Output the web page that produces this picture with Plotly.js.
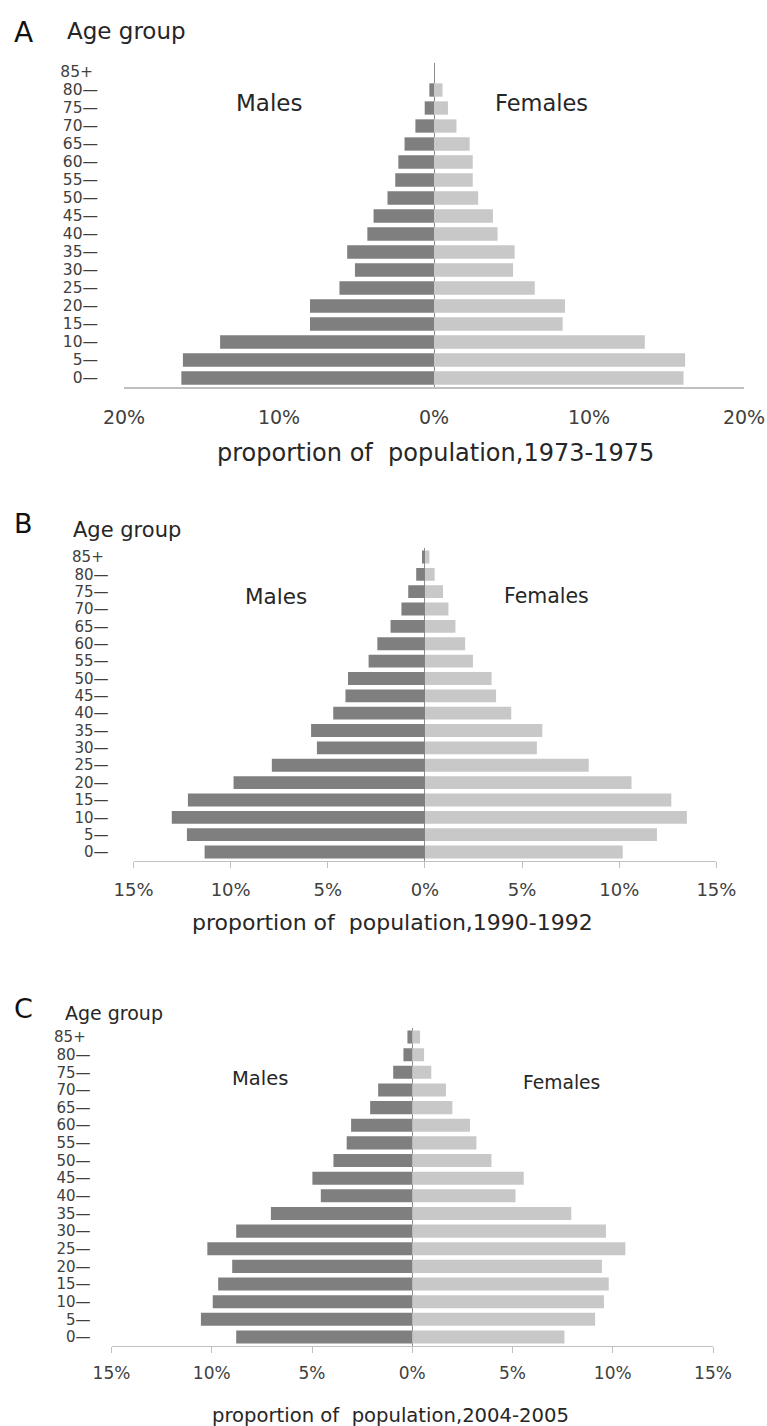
<!DOCTYPE html>
<html>
<head>
<meta charset="utf-8">
<script src="https://cdn.plot.ly/plotly-3.0.1.min.js"></script>
<style>html,body{margin:0;padding:0;background:#fff;}#chart{width:767px;height:1426px;}</style>
</head>
<body>
<div id="chart"></div>
<script>
// ---- data ----
const ageGroups = ['0','5','10','15','20','25','30','35','40','45','50','55','60','65','70','75','80','85+'];
const ageTickText = ['0—','5—','10—','15—','20—','25—','30—','35—','40—','45—','50—','55—','60—','65—','70—','75—','80—','85+\u00a0'];

// Panel A, 1973-1975 (percent of population)
const malesA   = [16.3, 16.2, 13.8, 8.0, 8.0, 6.1, 5.1, 5.6, 4.3, 3.9, 3.0, 2.5, 2.3, 1.9, 1.2, 0.6, 0.3, 0];
const femalesA = [16.1, 16.2, 13.6, 8.3, 8.45, 6.5, 5.1, 5.2, 4.1, 3.8, 2.85, 2.5, 2.5, 2.3, 1.45, 0.9, 0.55, 0];
// Panel B, 1990-1992
const malesB   = [11.34, 12.25, 13.03, 12.2, 9.85, 7.88, 5.56, 5.86, 4.72, 4.09, 3.96, 2.9, 2.45, 1.77, 1.21, 0.86, 0.45, 0.15];
const femalesB = [10.18, 11.94, 13.48, 12.68, 10.63, 8.43, 5.76, 6.04, 4.44, 3.66, 3.43, 2.47, 2.07, 1.57, 1.21, 0.93, 0.5, 0.23];
// Panel C, 2004-2005
const malesC   = [8.78, 10.54, 9.95, 9.68, 8.98, 10.22, 8.78, 7.05, 4.56, 4.98, 3.93, 3.27, 3.05, 2.1, 1.7, 0.95, 0.44, 0.24];
const femalesC = [7.59, 9.12, 9.56, 9.8, 9.46, 10.63, 9.66, 7.93, 5.15, 5.56, 3.95, 3.2, 2.88, 2.0, 1.68, 0.95, 0.59, 0.39];

const tickValsA = [-20, -10, 0, 10, 20];
const tickTextA = ['20%', '10%', '0%', '10%', '20%'];
const tickValsBC = [-15, -10, -5, 0, 5, 10, 15];
const tickTextBC = ['15%', '10%', '5%', '0%', '5%', '10%', '15%'];

const panelLetters = ['A', 'B', 'C'];
const xTitles = ['proportion of\u00a0 population,1973-1975', 'proportion of\u00a0 population,1990-1992', 'proportion of\u00a0 population,2004-2005'];
const sexLabels = ['Males', 'Females'];
const yTitle = 'Age group';

// ---- styling ----
const W = 767, H = 1426;
const FONT = 'DejaVu Sans, sans-serif';
const MALE_COLOR = '#7f7f7f', FEMALE_COLOR = '#c8c8c8';
const px = v => v / W;
const py = v => 1 - v / H;

const panels = [
  {males: malesA, females: femalesA, xd: [124, 744], yd: [63, 387], range: [-20, 20], tv: tickValsA, tt: tickTextA,
   yfont: 15.5, xfont: 19, ystand: 25, xstand: 13, ticks: '',
   letter: {x: 12, y: 32, s: 28}, ag: {x: 65, y: 31, s: 23},
   males_l: {x: 269, y: 103, s: 23}, fem_l: {x: 541, y: 103, s: 22.5}, title: {x: 435, y: 453, s: 24}},
  {males: malesB, females: femalesB, xd: [133.5, 716.4], yd: [548.3, 860.7], range: [-15, 15], tv: tickValsBC, tt: tickTextBC,
   yfont: 15, xfont: 18, ystand: 24, xstand: 6, ticks: 'outside',
   letter: {x: 12, y: 523, s: 27}, ag: {x: 71, y: 530, s: 21},
   males_l: {x: 275.5, y: 596, s: 21.5}, fem_l: {x: 546.5, y: 596, s: 20.5}, title: {x: 392, y: 922, s: 22}},
  {males: malesC, females: femalesC, xd: [111.5, 713], yd: [1028.2, 1345.8], range: [-15, 15], tv: tickValsBC, tt: tickTextBC,
   yfont: 15, xfont: 17, ystand: 20, xstand: 5, ticks: 'outside',
   letter: {x: 12, y: 1008, s: 27}, ag: {x: 63, y: 1013, s: 19},
   males_l: {x: 259.5, y: 1078, s: 19.5}, fem_l: {x: 561, y: 1082, s: 18.7}, title: {x: 391, y: 1415, s: 19.6}}
];

const traces = [];
const layout = {
  width: W, height: H,
  margin: {l: 0, r: 0, t: 0, b: 0},
  paper_bgcolor: '#ffffff', plot_bgcolor: '#ffffff',
  barmode: 'relative', bargap: 0.26,
  showlegend: false,
  font: {family: FONT, color: '#404040'},
  annotations: []
};

panels.forEach((p, i) => {
  const sfx = i === 0 ? '' : String(i + 1);
  const xa = 'x' + sfx, ya = 'y' + sfx;
  traces.push({
    type: 'bar', orientation: 'h', name: sexLabels[0],
    y: ageGroups, x: p.males.map(v => -v),
    xaxis: xa, yaxis: ya,
    marker: {color: MALE_COLOR, line: {width: 0}}, hoverinfo: 'skip'
  });
  traces.push({
    type: 'bar', orientation: 'h', name: sexLabels[1],
    y: ageGroups, x: p.females,
    xaxis: xa, yaxis: ya,
    marker: {color: FEMALE_COLOR, line: {width: 0}}, hoverinfo: 'skip'
  });
  layout['xaxis' + sfx] = {
    domain: [px(p.xd[0]), px(p.xd[1])], range: p.range, anchor: ya,
    tickmode: 'array', tickvals: p.tv, ticktext: p.tt,
    showline: true, linecolor: '#c0c0c0', linewidth: 1.5,
    ticks: p.ticks, ticklen: 6, tickcolor: '#c0c0c0', tickwidth: 1,
    ticklabelstandoff: p.xstand,
    zeroline: true, zerolinecolor: '#8c8c8c', zerolinewidth: 1,
    showgrid: false, fixedrange: true,
    tickfont: {family: FONT, size: p.xfont, color: '#404040'}
  };
  layout['yaxis' + sfx] = {
    domain: [py(p.yd[1]), py(p.yd[0])], anchor: xa,
    type: 'category', range: [-0.5, 17.5],
    tickmode: 'array', tickvals: ageGroups, ticktext: ageTickText,
    showline: false, showgrid: false, zeroline: false, ticks: '',
    ticklabelstandoff: p.ystand, fixedrange: true,
    tickfont: {family: FONT, size: p.yfont, color: '#404040'}
  };
  const ann = (text, x, y, size, xanchor, color) => ({
    text: text, xref: 'paper', yref: 'paper', x: px(x), y: py(y),
    xanchor: xanchor, yanchor: 'middle', showarrow: false,
    font: {family: FONT, size: size, color: color || '#262626'}
  });
  layout.annotations.push(ann(panelLetters[i], p.letter.x, p.letter.y, p.letter.s, 'left', '#111'));
  layout.annotations.push(ann(yTitle, p.ag.x, p.ag.y, p.ag.s, 'left'));
  layout.annotations.push(ann(sexLabels[0], p.males_l.x, p.males_l.y, p.males_l.s, 'center'));
  layout.annotations.push(ann(sexLabels[1], p.fem_l.x, p.fem_l.y, p.fem_l.s, 'center'));
  layout.annotations.push(ann(xTitles[i], p.title.x, p.title.y, p.title.s, 'center'));
});

Plotly.newPlot('chart', traces, layout, {staticPlot: true, displayModeBar: false});
</script>
</body>
</html>
